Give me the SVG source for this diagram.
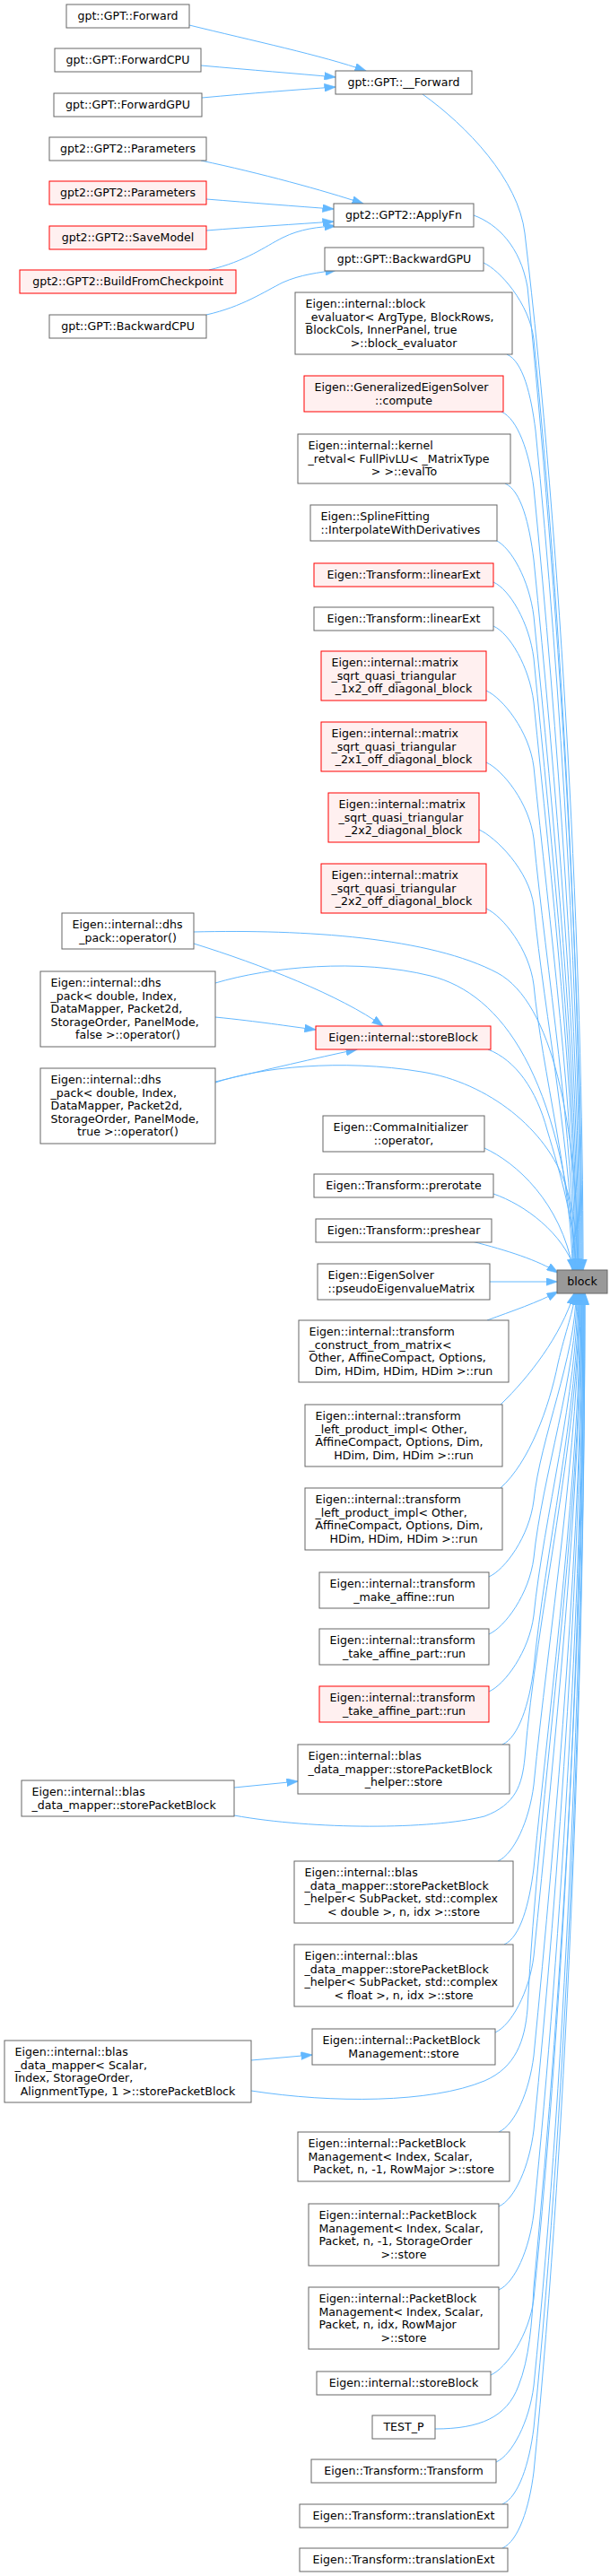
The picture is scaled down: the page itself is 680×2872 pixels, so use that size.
<svg xmlns="http://www.w3.org/2000/svg" width="680" height="2872" viewBox="0 0 680 2872" xml:space="preserve">
<style>
.n rect{fill:#ffffff;stroke:#666666;stroke-width:1}
.r rect{fill:#fff0f0;stroke:#ff0000;stroke-width:1}
.root rect{fill:#999999;stroke:#666666;stroke-width:1}
text{font-family:"DejaVu Sans","Liberation Sans",sans-serif;font-size:12.6px;fill:#000000}
.c{text-anchor:middle}
#edges path{fill:none;stroke:#63b8ff;stroke-width:1;marker-end:url(#arr)}
</style>
<defs>
<marker id="arr" viewBox="0 0 13 9" markerWidth="13" markerHeight="9" refX="12.5" refY="4.5" orient="auto" markerUnits="userSpaceOnUse">
<path d="M0,0 L13,4.5 L0,9 z" fill="#63b8ff" stroke="#63b8ff" stroke-width="0.5"/>
</marker>
</defs>
<rect width="680" height="2872" fill="#ffffff"/>
<g id="edges">
<path d="M211,28 C280,45 360,62 408,79"/>
<path d="M224,73 C280,78 330,82 374,86"/>
<path d="M225,109 C280,104 330,100 374,97"/>
<path d="M224,179 C290,193 360,212 405,227"/>
<path d="M230,222 C280,226 330,230 372,233"/>
<path d="M230,257 C280,253 330,250 372,247"/>
<path d="M233,301 C275,291 295,275 315,265 C335,255 355,253 374,252"/>
<path d="M230,351 C270,342 295,325 315,315 C335,306 355,304 375,301"/>
<path d="M471,105 C520,140 578,200 585,260 C626,607 650,1069 650,1416"/>
<path d="M528,240 C555,250 580,275 588,320 C621,649 649,1087 649,1416"/>
<path d="M539,293 C557,301 590,338 595,378 C626,689 648,1105 648,1416"/>
<path d="M565,395 C583,403 592,440 597,480 C625,761 647,1135 647,1416"/>
<path d="M559,459 C577,467 590,504 595,544 C621,806 646,1154 646,1416"/>
<path d="M563,539 C581,547 590,584 595,624 C619,862 645,1178 645,1416"/>
<path d="M552,602 C570,610 590,647 595,687 C617,906 644,1197 644,1416"/>
<path d="M550,649 C568,657 590,694 595,734 C615,939 643,1211 643,1416"/>
<path d="M550,698 C568,706 590,743 595,783 C614,973 642,1226 642,1416"/>
<path d="M542,770 C560,778 590,815 595,855 C612,1023 641,1248 641,1416"/>
<path d="M542,850 C560,858 590,895 595,935 C609,1079 640,1272 640,1416"/>
<path d="M534,925 C552,933 590,970 595,1010 C607,1132 639,1294 639,1416"/>
<path d="M542,1013 C560,1021 590,1058 595,1098 C604,1193 638,1321 638,1416"/>
<path d="M216,1039 C340,1036 480,1045 555,1085 C615,1118 643,1250 645,1416"/>
<path d="M216,1052 C290,1075 380,1110 427,1144"/>
<path d="M240,1096 C300,1078 400,1068 480,1088 C560,1108 625,1200 643,1416"/>
<path d="M240,1134 C290,1139 320,1144 352,1148"/>
<path d="M240,1207 C290,1190 380,1180 470,1195 C545,1207 610,1260 630,1320 C640,1350 644,1380 644,1416"/>
<path d="M240,1206 C300,1192 350,1180 398,1170"/>
<path d="M544,1170 C575,1182 598,1215 610,1260 C625,1310 640,1360 642,1416"/>
<path d="M540,1280 C575,1296 625,1340 639,1416"/>
<path d="M550,1331 C585,1343 628,1375 641,1416"/>
<path d="M526,1384 C565,1394 600,1405 622,1419"/>
<path d="M546,1429 L621,1429"/>
<path d="M543,1472 C570,1462 600,1452 622,1440"/>
<path d="M558,1566 C590,1535 625,1490 640,1442"/>
<path d="M558,1659 C590,1630 612,1570 622,1520 C630,1485 640,1460 641,1442"/>
<path d="M545,1758 C563,1750 590,1713 595,1673 C602,1604 642,1511 642,1442"/>
<path d="M545,1822 C563,1814 590,1777 595,1737 C604,1648 643,1531 643,1442"/>
<path d="M545,1886 C563,1878 590,1841 595,1801 C606,1693 644,1550 644,1442"/>
<path d="M560,1945 C578,1937 590,1900 595,1860 C607,1735 645,1567 645,1442"/>
<path d="M261,1993 L332,1986"/>
<path d="M261,2024 C350,2040 480,2040 540,2025 C575,2012 582,1990 585,1960 C598,1800 646,1600 646,1442"/>
<path d="M555,2075 C573,2067 590,2030 595,1990 C611,1826 646,1606 646,1442"/>
<path d="M562,2168 C580,2160 590,2123 595,2083 C614,1891 647,1634 647,1442"/>
<path d="M552,2266 C570,2258 590,2221 595,2181 C617,1959 648,1664 648,1442"/>
<path d="M280,2297 L348,2291"/>
<path d="M280,2331 C370,2345 480,2345 540,2320 C575,2305 585,2275 588,2240 C600,2000 648,1700 648,1442"/>
<path d="M556,2377 C574,2369 590,2332 595,2292 C620,2037 649,1697 649,1442"/>
<path d="M556,2460 C574,2452 590,2415 595,2375 C623,2095 649,1722 649,1442"/>
<path d="M556,2553 C574,2545 590,2508 595,2468 C626,2160 650,1750 650,1442"/>
<path d="M547,2648 C565,2640 590,2603 595,2563 C629,2227 650,1778 650,1442"/>
<path d="M485,2708 C535,2708 565,2695 578,2660 C590,2630 593,2590 595,2550 C628,2200 651,1800 651,1442"/>
<path d="M553,2745 C571,2737 590,2700 595,2660 C632,2295 651,1807 651,1442"/>
<path d="M560,2792 C578,2784 590,2747 595,2707 C633,2327 652,1822 652,1442"/>
<path d="M560,2841 C578,2833 590,2796 595,2756 C634,2362 652,1836 652,1442"/>
</g>
<g id="n1" class="n"><rect x="74" y="5" width="137" height="26"/><text class="c" x="142.5" y="22">gpt::GPT::Forward</text></g>
<g id="n2" class="n"><rect x="61" y="54" width="163" height="26"/><text class="c" x="142.5" y="71">gpt::GPT::ForwardCPU</text></g>
<g id="n3" class="n"><rect x="60" y="104" width="165" height="26"/><text class="c" x="142.5" y="121">gpt::GPT::ForwardGPU</text></g>
<g id="n4" class="n"><rect x="55" y="153" width="175" height="26"/><text class="c" x="142.5" y="170">gpt2::GPT2::Parameters</text></g>
<g id="n5" class="r"><rect x="55" y="202" width="175" height="26"/><text class="c" x="142.5" y="219">gpt2::GPT2::Parameters</text></g>
<g id="n6" class="r"><rect x="55" y="252" width="175" height="26"/><text class="c" x="142.5" y="269">gpt2::GPT2::SaveModel</text></g>
<g id="n7" class="r"><rect x="22" y="301" width="241" height="26"/><text class="c" x="142.5" y="318">gpt2::GPT2::BuildFromCheckpoint</text></g>
<g id="n8" class="n"><rect x="55" y="351" width="175" height="26"/><text class="c" x="142.5" y="368">gpt::GPT::BackwardCPU</text></g>
<g id="n9" class="n"><rect x="374" y="79" width="152" height="26"/><text class="c" x="450" y="96">gpt::GPT::__Forward</text></g>
<g id="n10" class="n"><rect x="372" y="227" width="156" height="26"/><text class="c" x="450" y="244">gpt2::GPT2::ApplyFn</text></g>
<g id="n11" class="n"><rect x="362" y="276" width="177" height="26"/><text class="c" x="450.5" y="293">gpt::GPT::BackwardGPU</text></g>
<g id="n12" class="n"><rect x="329" y="326" width="242" height="69"/><text x="340.5" y="343">Eigen::internal::block</text><text x="340.5" y="357.6">_evaluator&lt; ArgType, BlockRows,</text><text x="340.5" y="372.2"> BlockCols, InnerPanel, true</text><text class="c" x="450" y="386.8">&gt;::block_evaluator</text></g>
<g id="n13" class="r"><rect x="339" y="419" width="222" height="40"/><text x="350.5" y="436">Eigen::GeneralizedEigenSolver</text><text class="c" x="450" y="450.6">::compute</text></g>
<g id="n14" class="n"><rect x="332" y="484" width="237" height="55"/><text x="343.5" y="501">Eigen::internal::kernel</text><text x="343.5" y="515.6">_retval&lt; FullPivLU&lt; _MatrixType</text><text class="c" x="450.5" y="530.2"> &gt; &gt;::evalTo</text></g>
<g id="n15" class="n"><rect x="346" y="563" width="208" height="40"/><text x="357.5" y="580">Eigen::SplineFitting</text><text x="357.5" y="594.6">::InterpolateWithDerivatives</text></g>
<g id="n16" class="r"><rect x="350" y="628" width="200" height="26"/><text class="c" x="450" y="645">Eigen::Transform::linearExt</text></g>
<g id="n17" class="n"><rect x="350" y="677" width="200" height="26"/><text class="c" x="450" y="694">Eigen::Transform::linearExt</text></g>
<g id="n18" class="r"><rect x="358" y="726" width="184" height="55"/><text x="369.5" y="743">Eigen::internal::matrix</text><text x="369.5" y="757.6">_sqrt_quasi_triangular</text><text class="c" x="450" y="772.2">_1x2_off_diagonal_block</text></g>
<g id="n19" class="r"><rect x="358" y="805" width="184" height="55"/><text x="369.5" y="822">Eigen::internal::matrix</text><text x="369.5" y="836.6">_sqrt_quasi_triangular</text><text class="c" x="450" y="851.2">_2x1_off_diagonal_block</text></g>
<g id="n20" class="r"><rect x="366" y="884" width="168" height="55"/><text x="377.5" y="901">Eigen::internal::matrix</text><text x="377.5" y="915.6">_sqrt_quasi_triangular</text><text class="c" x="450" y="930.2">_2x2_diagonal_block</text></g>
<g id="n21" class="r"><rect x="358" y="963" width="184" height="55"/><text x="369.5" y="980">Eigen::internal::matrix</text><text x="369.5" y="994.6">_sqrt_quasi_triangular</text><text class="c" x="450" y="1009.2">_2x2_off_diagonal_block</text></g>
<g id="n22" class="n"><rect x="69" y="1018" width="147" height="40"/><text x="80.5" y="1035">Eigen::internal::dhs</text><text class="c" x="142.5" y="1049.6">_pack::operator()</text></g>
<g id="n23" class="n"><rect x="45" y="1083" width="195" height="84"/><text x="56.5" y="1100">Eigen::internal::dhs</text><text x="56.5" y="1114.6">_pack&lt; double, Index,</text><text x="56.5" y="1129.2"> DataMapper, Packet2d,</text><text x="56.5" y="1143.8"> StorageOrder, PanelMode,</text><text class="c" x="142.5" y="1158.4">false &gt;::operator()</text></g>
<g id="n24" class="r"><rect x="352" y="1144" width="195" height="26"/><text class="c" x="449.5" y="1161">Eigen::internal::storeBlock</text></g>
<g id="n25" class="n"><rect x="45" y="1191" width="195" height="84"/><text x="56.5" y="1208">Eigen::internal::dhs</text><text x="56.5" y="1222.6">_pack&lt; double, Index,</text><text x="56.5" y="1237.2"> DataMapper, Packet2d,</text><text x="56.5" y="1251.8"> StorageOrder, PanelMode,</text><text class="c" x="142.5" y="1266.4">true &gt;::operator()</text></g>
<g id="n26" class="n"><rect x="360" y="1244" width="180" height="40"/><text x="371.5" y="1261">Eigen::CommaInitializer</text><text class="c" x="450" y="1275.6">::operator,</text></g>
<g id="n27" class="n"><rect x="350" y="1309" width="200" height="26"/><text class="c" x="450" y="1326">Eigen::Transform::prerotate</text></g>
<g id="n28" class="n"><rect x="352" y="1359" width="196" height="26"/><text class="c" x="450" y="1376">Eigen::Transform::preshear</text></g>
<g id="n29" class="n"><rect x="354" y="1409" width="192" height="40"/><text x="365.5" y="1426">Eigen::EigenSolver</text><text x="365.5" y="1440.6">::pseudoEigenvalueMatrix</text></g>
<g id="n30" class="root"><rect x="621" y="1416" width="56" height="26"/><text class="c" x="649" y="1433">block</text></g>
<g id="n31" class="n"><rect x="333" y="1472" width="234" height="69"/><text x="344.5" y="1489">Eigen::internal::transform</text><text x="344.5" y="1503.6">_construct_from_matrix&lt;</text><text x="344.5" y="1518.2"> Other, AffineCompact, Options,</text><text class="c" x="450" y="1532.8"> Dim, HDim, HDim, HDim &gt;::run</text></g>
<g id="n32" class="n"><rect x="340" y="1566" width="220" height="69"/><text x="351.5" y="1583">Eigen::internal::transform</text><text x="351.5" y="1597.6">_left_product_impl&lt; Other,</text><text x="351.5" y="1612.2"> AffineCompact, Options, Dim,</text><text class="c" x="450" y="1626.8"> HDim, Dim, HDim &gt;::run</text></g>
<g id="n33" class="n"><rect x="340" y="1659" width="220" height="69"/><text x="351.5" y="1676">Eigen::internal::transform</text><text x="351.5" y="1690.6">_left_product_impl&lt; Other,</text><text x="351.5" y="1705.2"> AffineCompact, Options, Dim,</text><text class="c" x="450" y="1719.8"> HDim, HDim, HDim &gt;::run</text></g>
<g id="n34" class="n"><rect x="356" y="1753" width="189" height="40"/><text x="367.5" y="1770">Eigen::internal::transform</text><text class="c" x="450.5" y="1784.6">_make_affine::run</text></g>
<g id="n35" class="n"><rect x="356" y="1816" width="189" height="40"/><text x="367.5" y="1833">Eigen::internal::transform</text><text class="c" x="450.5" y="1847.6">_take_affine_part::run</text></g>
<g id="n36" class="r"><rect x="356" y="1880" width="189" height="40"/><text x="367.5" y="1897">Eigen::internal::transform</text><text class="c" x="450.5" y="1911.6">_take_affine_part::run</text></g>
<g id="n37" class="n"><rect x="332" y="1945" width="236" height="55"/><text x="343.5" y="1962">Eigen::internal::blas</text><text x="343.5" y="1976.6">_data_mapper::storePacketBlock</text><text class="c" x="450" y="1991.2">_helper::store</text></g>
<g id="n38" class="n"><rect x="24" y="1985" width="237" height="40"/><text x="35.5" y="2002">Eigen::internal::blas</text><text x="35.5" y="2016.6">_data_mapper::storePacketBlock</text></g>
<g id="n39" class="n"><rect x="328" y="2075" width="244" height="69"/><text x="339.5" y="2092">Eigen::internal::blas</text><text x="339.5" y="2106.6">_data_mapper::storePacketBlock</text><text x="339.5" y="2121.2">_helper&lt; SubPacket, std::complex</text><text class="c" x="450" y="2135.8">&lt; double &gt;, n, idx &gt;::store</text></g>
<g id="n40" class="n"><rect x="328" y="2168" width="244" height="69"/><text x="339.5" y="2185">Eigen::internal::blas</text><text x="339.5" y="2199.6">_data_mapper::storePacketBlock</text><text x="339.5" y="2214.2">_helper&lt; SubPacket, std::complex</text><text class="c" x="450" y="2228.8">&lt; float &gt;, n, idx &gt;::store</text></g>
<g id="n41" class="n"><rect x="348" y="2262" width="204" height="40"/><text x="359.5" y="2279">Eigen::internal::PacketBlock</text><text class="c" x="450" y="2293.6">Management::store</text></g>
<g id="n42" class="n"><rect x="5" y="2275" width="275" height="69"/><text x="16.5" y="2292">Eigen::internal::blas</text><text x="16.5" y="2306.6">_data_mapper&lt; Scalar,</text><text x="16.5" y="2321.2"> Index, StorageOrder,</text><text class="c" x="142.5" y="2335.8"> AlignmentType, 1 &gt;::storePacketBlock</text></g>
<g id="n43" class="n"><rect x="332" y="2377" width="236" height="55"/><text x="343.5" y="2394">Eigen::internal::PacketBlock</text><text x="343.5" y="2408.6">Management&lt; Index, Scalar,</text><text class="c" x="450" y="2423.2"> Packet, n, -1, RowMajor &gt;::store</text></g>
<g id="n44" class="n"><rect x="344" y="2457" width="212" height="69"/><text x="355.5" y="2474">Eigen::internal::PacketBlock</text><text x="355.5" y="2488.6">Management&lt; Index, Scalar,</text><text x="355.5" y="2503.2"> Packet, n, -1, StorageOrder</text><text class="c" x="450" y="2517.8"> &gt;::store</text></g>
<g id="n45" class="n"><rect x="344" y="2550" width="212" height="69"/><text x="355.5" y="2567">Eigen::internal::PacketBlock</text><text x="355.5" y="2581.6">Management&lt; Index, Scalar,</text><text x="355.5" y="2596.2"> Packet, n, idx, RowMajor</text><text class="c" x="450" y="2610.8"> &gt;::store</text></g>
<g id="n46" class="n"><rect x="353" y="2644" width="194" height="26"/><text class="c" x="450" y="2661">Eigen::internal::storeBlock</text></g>
<g id="n47" class="n"><rect x="415" y="2693" width="70" height="26"/><text class="c" x="450" y="2710">TEST_P</text></g>
<g id="n48" class="n"><rect x="347" y="2742" width="206" height="26"/><text class="c" x="450" y="2759">Eigen::Transform::Transform</text></g>
<g id="n49" class="n"><rect x="334" y="2792" width="232" height="26"/><text class="c" x="450" y="2809">Eigen::Transform::translationExt</text></g>
<g id="n50" class="n"><rect x="334" y="2841" width="232" height="26"/><text class="c" x="450" y="2858">Eigen::Transform::translationExt</text></g>
</svg>
